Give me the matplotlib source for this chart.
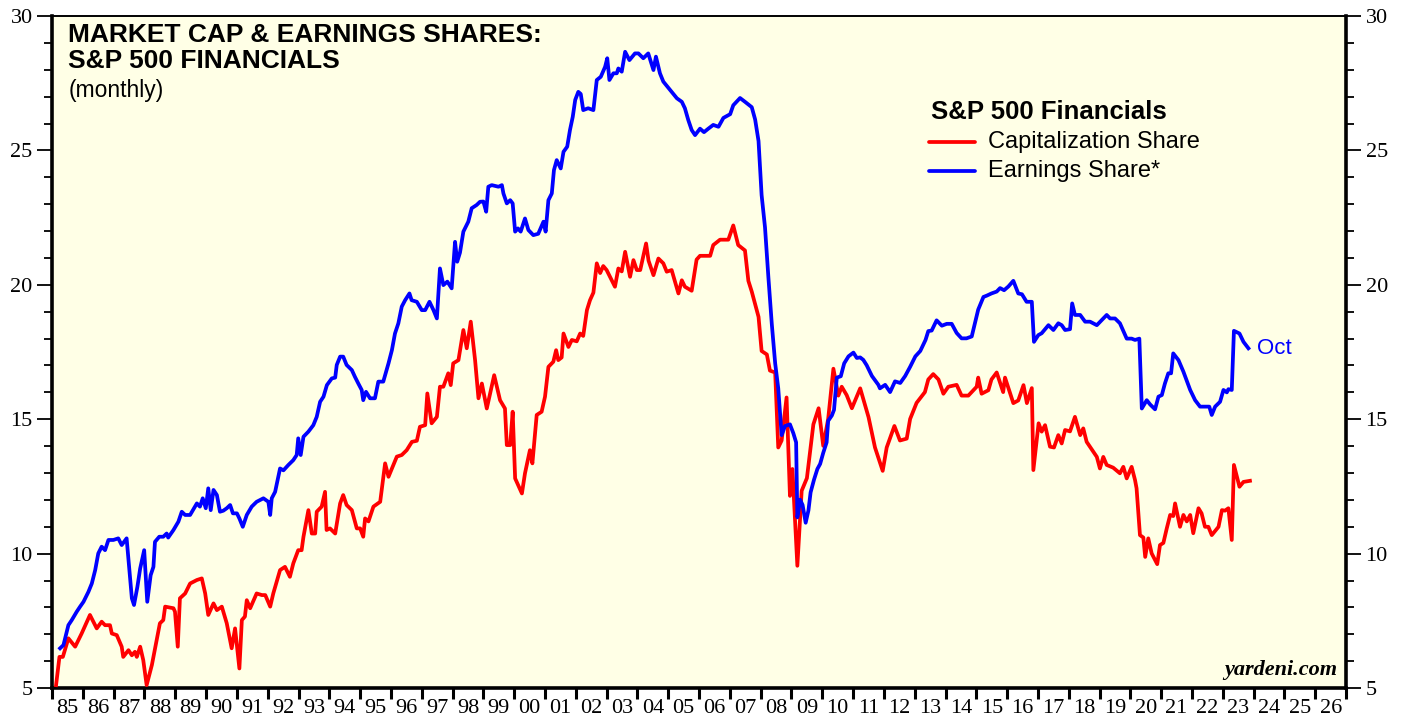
import matplotlib
matplotlib.use("Agg")
import matplotlib.pyplot as plt
import numpy as np
from matplotlib.ticker import MultipleLocator

# S&P 500 Financials: capitalization share (red)
cap_year = [
    1985.13, 1985.24, 1985.35, 1985.53, 1985.75, 1985.96, 1986.23, 1986.45, 1986.61, 1986.72,
    1986.88, 1986.94, 1987.10, 1987.26, 1987.31, 1987.48, 1987.59, 1987.69, 1987.75, 1987.86,
    1987.96, 1988.07, 1988.24, 1988.50, 1988.61, 1988.67, 1988.94, 1988.99, 1989.08, 1989.15,
    1989.32, 1989.48, 1989.70, 1989.86, 1989.97, 1990.07, 1990.24, 1990.35, 1990.51, 1990.67,
    1990.83, 1990.94, 1991.08, 1991.16, 1991.26, 1991.32, 1991.43, 1991.64, 1991.81, 1991.92,
    1992.08, 1992.18, 1992.40, 1992.56, 1992.72, 1992.83, 1992.99, 1993.10, 1993.16, 1993.32,
    1993.43, 1993.54, 1993.59, 1993.75, 1993.86, 1993.91, 1994.02, 1994.19, 1994.35, 1994.45,
    1994.56, 1994.73, 1994.89, 1995.00, 1995.10, 1995.16, 1995.27, 1995.43, 1995.65, 1995.81,
    1995.92, 1996.19, 1996.35, 1996.51, 1996.68, 1996.84, 1996.94, 1997.11, 1997.18, 1997.32,
    1997.49, 1997.59, 1997.70, 1997.86, 1997.94, 1998.02, 1998.19, 1998.35, 1998.46, 1998.59,
    1998.73, 1998.84, 1998.95, 1999.11, 1999.35, 1999.54, 1999.70, 1999.76, 1999.87, 1999.95,
    2000.03, 2000.25, 2000.35, 2000.51, 2000.59, 2000.73, 2000.89, 2001.00, 2001.11, 2001.27,
    2001.36, 2001.43, 2001.54, 2001.60, 2001.76, 2001.87, 2002.03, 2002.14, 2002.24, 2002.36,
    2002.46, 2002.57, 2002.68, 2002.79, 2002.89, 2003.00, 2003.11, 2003.27, 2003.38, 2003.49,
    2003.60, 2003.76, 2003.87, 2003.98, 2004.09, 2004.28, 2004.36, 2004.52, 2004.68, 2004.84,
    2004.95, 2005.11, 2005.22, 2005.33, 2005.44, 2005.54, 2005.76, 2005.92, 2006.03, 2006.36,
    2006.46, 2006.68, 2006.95, 2007.11, 2007.27, 2007.49, 2007.60, 2007.71, 2007.93, 2008.03,
    2008.20, 2008.30, 2008.47, 2008.57, 2008.68, 2008.84, 2008.95, 2009.03, 2009.19, 2009.33,
    2009.50, 2009.71, 2009.88, 2010.03, 2010.19, 2010.36, 2010.52, 2010.63, 2010.79, 2010.96,
    2011.23, 2011.50, 2011.71, 2011.96, 2012.09, 2012.34, 2012.52, 2012.74, 2012.85, 2013.06,
    2013.33, 2013.44, 2013.60, 2013.77, 2013.93, 2014.09, 2014.36, 2014.52, 2014.74, 2015.01,
    2015.06, 2015.17, 2015.39, 2015.49, 2015.66, 2015.87, 2015.93, 2016.20, 2016.36, 2016.53,
    2016.64, 2016.80, 2016.85, 2017.02, 2017.12, 2017.23, 2017.39, 2017.52, 2017.66, 2017.77,
    2017.88, 2018.04, 2018.20, 2018.37, 2018.47, 2018.58, 2018.80, 2018.91, 2019.01, 2019.12,
    2019.23, 2019.44, 2019.66, 2019.77, 2019.88, 2020.04, 2020.15, 2020.20, 2020.31, 2020.42,
    2020.48, 2020.58, 2020.69, 2020.80, 2020.87, 2020.96, 2021.07, 2021.18, 2021.29, 2021.39,
    2021.45, 2021.61, 2021.72, 2021.83, 2021.94, 2022.04, 2022.21, 2022.31, 2022.42, 2022.53,
    2022.64, 2022.86, 2022.97, 2023.07, 2023.18, 2023.29, 2023.36, 2023.54, 2023.67, 2023.88,
]
cap_share = [
    5.11, 6.16, 6.16, 6.85, 6.54, 7.03, 7.72, 7.22, 7.47, 7.34,
    7.34, 7.03, 6.97, 6.54, 6.16, 6.41, 6.22, 6.35, 6.16, 6.54,
    6.04, 5.11, 5.86, 7.41, 7.53, 8.03, 7.97, 7.84, 6.54, 8.34,
    8.52, 8.89, 9.02, 9.08, 8.52, 7.72, 8.15, 7.90, 8.03, 7.41,
    6.48, 7.22, 5.73, 7.53, 7.66, 8.27, 7.97, 8.52, 8.46, 8.46,
    8.03, 8.52, 9.39, 9.51, 9.14, 9.64, 10.13, 10.13, 10.63, 11.62,
    10.75, 10.75, 11.56, 11.75, 12.30, 10.88, 10.94, 10.75, 11.87, 12.18,
    11.81, 11.62, 10.94, 10.94, 10.63, 11.31, 11.20, 11.75, 11.93, 13.36,
    12.86, 13.61, 13.67, 13.85, 14.16, 14.20, 14.72, 14.78, 15.96, 14.85,
    15.09, 16.21, 16.21, 16.71, 16.27, 17.08, 17.20, 18.32, 17.64, 18.63,
    17.20, 15.78, 16.33, 15.40, 16.64, 15.71, 15.40, 14.04, 14.04, 15.28,
    12.80, 12.24, 12.99, 13.85, 13.36, 15.16, 15.28, 15.84, 16.95, 17.14,
    17.57, 17.20, 17.30, 18.19, 17.69, 17.95, 17.90, 18.19, 18.10, 19.06,
    19.43, 19.71, 20.80, 20.44, 20.70, 20.55, 20.30, 19.93, 20.61, 20.50,
    21.23, 20.30, 20.92, 20.55, 20.55, 21.54, 20.90, 20.36, 20.98, 20.80,
    20.49, 20.55, 20.12, 19.68, 20.17, 19.93, 19.78, 20.94, 21.08, 21.08,
    21.48, 21.68, 21.68, 22.21, 21.48, 21.28, 20.15, 19.75, 18.81, 17.54,
    17.41, 16.81, 16.74, 13.95, 14.21, 15.81, 12.15, 13.15, 9.55, 12.34,
    12.81, 14.81, 15.41, 14.01, 15.01, 16.88, 15.88, 16.21, 15.90, 15.41,
    16.15, 15.08, 13.95, 13.08, 13.95, 14.75, 14.21, 14.28, 15.01, 15.61,
    16.01, 16.48, 16.68, 16.48, 15.95, 16.21, 16.28, 15.88, 15.88, 16.21,
    16.55, 15.95, 16.08, 16.48, 16.74, 16.01, 16.55, 15.60, 15.70, 16.27,
    15.60, 16.16, 13.11, 14.85, 14.54, 14.78, 13.98, 13.95, 14.41, 14.10,
    14.60, 14.55, 15.09, 14.41, 14.66, 14.16, 13.79, 13.60, 13.17, 13.60,
    13.30, 13.20, 12.99, 13.23, 12.80, 13.23, 12.74, 12.43, 10.69, 10.60,
    9.88, 10.57, 10.01, 9.76, 9.61, 10.32, 10.40, 10.94, 11.44, 11.40,
    11.87, 11.00, 11.44, 11.20, 11.44, 10.76, 11.69, 11.50, 11.00, 11.00,
    10.69, 11.00, 11.62, 11.60, 11.69, 10.51, 13.30, 12.49, 12.67, 12.71,
]

# S&P 500 Financials: earnings share (blue)
earn_year = [
    1985.26, 1985.37, 1985.53, 1985.64, 1985.80, 1985.91, 1986.02, 1986.18, 1986.29, 1986.40,
    1986.50, 1986.61, 1986.72, 1986.83, 1986.99, 1987.15, 1987.26, 1987.42, 1987.51, 1987.59,
    1987.66, 1987.77, 1987.86, 1987.99, 1988.09, 1988.20, 1988.29, 1988.34, 1988.48, 1988.61,
    1988.72, 1988.77, 1988.94, 1989.10, 1989.21, 1989.32, 1989.48, 1989.70, 1989.80, 1989.89,
    1989.99, 1990.07, 1990.15, 1990.24, 1990.35, 1990.45, 1990.56, 1990.67, 1990.78, 1990.87,
    1991.00, 1991.08, 1991.19, 1991.32, 1991.48, 1991.64, 1991.86, 1992.02, 1992.08, 1992.13,
    1992.24, 1992.40, 1992.51, 1992.67, 1992.83, 1992.94, 1992.99, 1993.07, 1993.16, 1993.32,
    1993.48, 1993.59, 1993.70, 1993.81, 1993.92, 1994.08, 1994.19, 1994.24, 1994.35, 1994.45,
    1994.56, 1994.73, 1994.83, 1994.94, 1995.05, 1995.10, 1995.19, 1995.32, 1995.48, 1995.59,
    1995.75, 1995.92, 1996.03, 1996.13, 1996.24, 1996.35, 1996.46, 1996.60, 1996.67, 1996.84,
    1997.00, 1997.11, 1997.25, 1997.38, 1997.49, 1997.59, 1997.70, 1997.83, 1997.97, 1998.08,
    1998.15, 1998.24, 1998.35, 1998.51, 1998.62, 1998.78, 1998.89, 1999.00, 1999.09, 1999.16,
    1999.27, 1999.49, 1999.60, 1999.65, 1999.76, 1999.87, 1999.95, 2000.03, 2000.12, 2000.21,
    2000.35, 2000.46, 2000.62, 2000.78, 2000.95, 2001.02, 2001.11, 2001.22, 2001.29, 2001.38,
    2001.51, 2001.60, 2001.72, 2001.81, 2001.90, 2001.98, 2002.08, 2002.16, 2002.24, 2002.40,
    2002.57, 2002.68, 2002.81, 2002.95, 2003.02, 2003.09, 2003.22, 2003.33, 2003.38, 2003.49,
    2003.60, 2003.74, 2003.92, 2004.03, 2004.19, 2004.35, 2004.52, 2004.60, 2004.73, 2004.84,
    2005.06, 2005.28, 2005.44, 2005.54, 2005.65, 2005.76, 2005.87, 2006.03, 2006.16, 2006.30,
    2006.46, 2006.63, 2006.79, 2007.01, 2007.11, 2007.33, 2007.49, 2007.71, 2007.82, 2007.93,
    2008.03, 2008.14, 2008.25, 2008.36, 2008.47, 2008.57, 2008.68, 2008.79, 2008.95, 2009.06,
    2009.15, 2009.19, 2009.28, 2009.36, 2009.46, 2009.55, 2009.62, 2009.73, 2009.84, 2009.93,
    2010.03, 2010.14, 2010.19, 2010.31, 2010.38, 2010.47, 2010.60, 2010.71, 2010.85, 2011.01,
    2011.12, 2011.23, 2011.33, 2011.44, 2011.61, 2011.82, 2011.87, 2012.04, 2012.20, 2012.36,
    2012.53, 2012.69, 2012.85, 2013.02, 2013.18, 2013.35, 2013.44, 2013.55, 2013.71, 2013.88,
    2014.04, 2014.20, 2014.36, 2014.52, 2014.68, 2014.85, 2014.96, 2015.06, 2015.23, 2015.34,
    2015.49, 2015.66, 2015.77, 2015.90, 2016.04, 2016.20, 2016.36, 2016.48, 2016.63, 2016.80,
    2016.87, 2017.01, 2017.12, 2017.34, 2017.50, 2017.66, 2017.77, 2017.88, 2018.04, 2018.11,
    2018.20, 2018.37, 2018.53, 2018.69, 2018.91, 2019.07, 2019.23, 2019.34, 2019.50, 2019.66,
    2019.83, 2019.88, 2020.04, 2020.15, 2020.29, 2020.37, 2020.53, 2020.64, 2020.80, 2020.91,
    2021.02, 2021.12, 2021.23, 2021.32, 2021.39, 2021.56, 2021.72, 2021.94, 2022.10, 2022.26,
    2022.48, 2022.56, 2022.64, 2022.75, 2022.91, 2023.02, 2023.13, 2023.18, 2023.29, 2023.36,
    2023.54, 2023.67, 2023.83,
]
earn_share = [
    6.48, 6.60, 7.34, 7.53, 7.84, 8.03, 8.21, 8.58, 8.89, 9.39,
    10.01, 10.26, 10.13, 10.51, 10.51, 10.57, 10.32, 10.57, 9.39, 8.34,
    8.09, 8.77, 9.45, 10.13, 8.21, 9.20, 9.51, 10.44, 10.63, 10.63,
    10.75, 10.60, 10.88, 11.19, 11.56, 11.44, 11.44, 11.87, 11.75, 12.06,
    11.69, 12.43, 11.62, 12.37, 12.18, 11.56, 11.60, 11.69, 11.81, 11.50,
    11.50, 11.31, 11.00, 11.44, 11.75, 11.93, 12.06, 11.93, 11.44, 12.06,
    12.30, 13.17, 13.10, 13.30, 13.48, 13.67, 14.29, 13.67, 14.35, 14.54,
    14.78, 15.09, 15.65, 15.84, 16.27, 16.52, 16.55, 17.02, 17.33, 17.33,
    17.02, 16.83, 16.58, 16.33, 16.09, 15.71, 16.02, 15.78, 15.78, 16.40,
    16.40, 17.08, 17.57, 18.19, 18.57, 19.19, 19.43, 19.68, 19.43, 19.37,
    19.06, 19.06, 19.37, 19.06, 18.75, 20.61, 19.99, 20.12, 19.87, 21.60,
    20.86, 21.20, 21.98, 22.35, 22.85, 22.97, 23.09, 23.10, 22.72, 23.65,
    23.71, 23.65, 23.71, 23.40, 23.03, 23.15, 23.03, 21.98, 22.10, 21.98,
    22.47, 22.04, 21.85, 21.90, 22.35, 21.98, 23.15, 23.40, 24.27, 24.64,
    24.33, 24.95, 25.14, 25.76, 26.25, 26.88, 27.18, 27.10, 26.50, 26.57,
    26.50, 27.62, 27.74, 28.11, 28.43, 27.62, 27.87, 27.87, 28.05, 27.93,
    28.67, 28.36, 28.61, 28.61, 28.43, 28.61, 27.99, 28.49, 27.87, 27.56,
    27.25, 26.94, 26.81, 26.57, 26.13, 25.76, 25.57, 25.81, 25.68, 25.81,
    25.95, 25.88, 26.21, 26.35, 26.68, 26.95, 26.81, 26.61, 26.15, 25.35,
    23.34, 22.14, 20.28, 18.55, 17.08, 16.15, 14.41, 14.75, 14.81, 14.48,
    14.14, 11.35, 12.01, 11.81, 11.15, 11.61, 12.28, 12.75, 13.15, 13.34,
    13.75, 14.14, 14.94, 15.14, 15.35, 16.55, 16.60, 17.08, 17.34, 17.48,
    17.28, 17.30, 17.21, 17.01, 16.61, 16.28, 16.15, 16.28, 16.01, 16.41,
    16.35, 16.61, 16.95, 17.34, 17.54, 17.95, 18.28, 18.30, 18.68, 18.48,
    18.55, 18.55, 18.21, 18.01, 18.01, 18.08, 18.61, 19.08, 19.55, 19.60,
    19.68, 19.75, 19.88, 19.80, 19.94, 20.15, 19.68, 19.65, 19.37, 19.37,
    17.88, 18.13, 18.20, 18.50, 18.32, 18.57, 18.50, 18.32, 18.35, 19.31,
    18.88, 18.88, 18.63, 18.63, 18.50, 18.69, 18.88, 18.75, 18.75, 18.57,
    18.13, 18.00, 18.00, 17.95, 18.00, 15.40, 15.71, 15.55, 15.37, 15.84,
    15.90, 16.33, 16.71, 16.71, 17.45, 17.20, 16.77, 16.09, 15.71, 15.47,
    15.47, 15.47, 15.16, 15.47, 15.65, 16.09, 16.00, 16.12, 16.09, 18.29,
    18.19, 17.88, 17.64,
]

year_labels = [f"{y % 100:02d}" for y in range(1985, 2027)]

BG = "#FFFFE6"
RED = "#FF0000"
BLUE = "#0000FF"
SERIF = "Liberation Serif"
SANS = "Liberation Sans"

fig = plt.figure(figsize=(14.07, 7.19), dpi=100)
ax = fig.add_axes([0.037, 0.043, 0.9197, 0.9347])
ax.set_facecolor(BG)

ax.plot(cap_year, cap_share, color=RED, lw=2.7, solid_joinstyle="round", zorder=3)
ax.plot(earn_year, earn_share, color=BLUE, lw=2.7, solid_joinstyle="round", zorder=3)

ax.set_xlim(1985, 2027)
ax.set_ylim(5, 30)

# x axis: ticks at year boundaries, labels centred in each year
ax.set_xticks(np.arange(1985, 2028))
ax.set_xticklabels([])
ax.set_xticks(np.arange(1985.5, 2027), minor=True)
ax.set_xticklabels(year_labels, minor=True, fontsize=16, family=SERIF)
ax.tick_params(axis="x", which="major", direction="out", length=8, width=2.2, bottom=True, top=False)
ax.tick_params(axis="x", which="minor", length=0, pad=8)

# y axis on both sides
ax.yaxis.set_major_locator(MultipleLocator(5))
ax.yaxis.set_minor_locator(MultipleLocator(1))
ax.tick_params(axis="y", which="major", direction="out", length=11, width=1.3,
               left=True, right=True, labelleft=True, labelright=True, labelsize=16, pad=3)
ax.tick_params(axis="y", which="minor", direction="out", length=6, width=1.3,
               left=True, right=True)
for lab in ax.get_yticklabels():
    lab.set_family(SERIF)

for side in ("left", "bottom", "right"):
    ax.spines[side].set_linewidth(2.6)
ax.spines["top"].set_linewidth(1.4)

# titles
ax.text(0.0125, 0.99, "MARKET CAP & EARNINGS SHARES:\nS&P 500 FINANCIALS",
        transform=ax.transAxes, ha="left", va="top", fontsize=19,
        fontweight="bold", family=SANS, linespacing=1.1)
ax.text(0.0125, 0.889, "(monthly)", transform=ax.transAxes, ha="left", va="center",
        fontsize=16.5, family=SANS)

# legend block
ax.text(0.679, 0.857, "S&P 500 Financials", transform=ax.transAxes, ha="left",
        va="center", fontsize=18.5, fontweight="bold", family=SANS)
legend_rows = [("Capitalization Share", RED, 0.813), ("Earnings Share*", BLUE, 0.770)]
for label, col, yy in legend_rows:
    ax.plot([0.678, 0.713], [yy, yy], transform=ax.transAxes, color=col, lw=2.7,
            solid_capstyle="round")
    ax.text(0.723, yy, label, transform=ax.transAxes, ha="left", va="center",
            fontsize=17, family=SANS)

ax.annotate("Oct", xy=(earn_year[-1], earn_share[-1]), xytext=(6, 0),
            textcoords="offset points", color=BLUE, fontsize=16, family=SANS,
            va="center", ha="left")

ax.text(0.9935, 0.012, "yardeni.com", transform=ax.transAxes, ha="right", va="bottom",
        fontsize=16, fontweight="bold", style="italic", family=SERIF)

fig.savefig("out.png", dpi=100)
